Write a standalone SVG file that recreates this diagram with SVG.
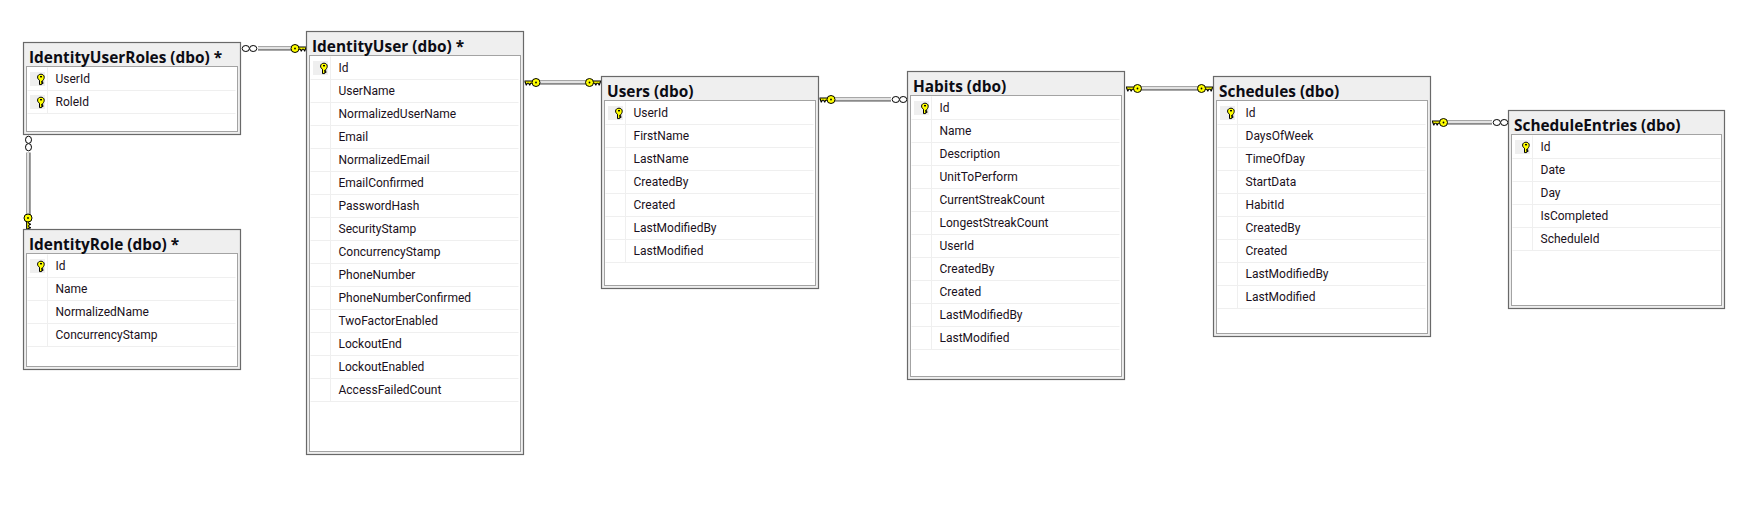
<svg xmlns="http://www.w3.org/2000/svg" width="1741" height="505" viewBox="0 0 1741 505">
<style>
.o{fill:#efefef;stroke:#696969;stroke-width:1.2}
.i{fill:#fff;stroke:#a3a3a3;stroke-width:1}
.g{fill:none;stroke:#efefef;stroke-width:1}
.t{font:700 15.4px "Open Sans","Noto Sans",sans-serif;fill:#0c0c14}
.c{font:12px Roboto,"Open Sans",sans-serif;fill:#1a1020;transform:translateY(-.6px)}
.w1{stroke:#8a8a8a;stroke-width:4.6;fill:none}
.w2{stroke:#e2e2e2;stroke-width:2;fill:none}
.kb{fill:#ffff00;stroke:#000;stroke-width:1}
</style>
<defs>
<g id="pk">
<rect x="0" y="0" width="15" height="14" fill="#efefef"/>
<path class="kb" d="M9.5 8.2V12.6H11.5V11.6H13V10.4H11.5V9.4H12.8V8.2C14 7.4 14.2 6 14.2 5 14.2 3.2 12.6 2.2 11 2.2 9.2 2.2 7.6 3.2 7.6 5 7.6 6.4 8.2 7.6 9.5 8.2Z"/>
<rect x="10" y="4" width="2" height="1.4" fill="#000"/>
</g>
<g id="fk">
<path d="M3 -1.9H11.5V-.4L10.2 3H9.2L8.4 1.2H7.6L6.8 3H5.8L5 1.2H3Z" fill="#000"/>
<path d="M3 -1H10.6V-.5H3Z" fill="#ffff00"/>
<path d="M3 -.6H10.2L9.6 1.2 8.8 .2H7.2L6.4 1.2 5.6 .2H3Z" fill="#ffff00"/>
<circle class="kb" r="4" stroke-width="1.2"/>
<circle r=".9" fill="#000"/>
</g>
<g id="oo" fill="#fff" stroke="#000" stroke-width="1">
<ellipse cx="3.8" rx="3.6" ry="3"/>
<ellipse cx="11.2" rx="3.6" ry="3"/>
</g>
</defs>
<rect width="1741" height="505" fill="#fff"/>
<g id="connectors">
<g id="c-userroles-user">
<path class="w1" d="M258 48.5H292"/><path class="w2" d="M258 48H292"/>
<use href="#oo" transform="translate(242 48.5)"/>
<use href="#fk" transform="translate(295 48.5)"/>
</g>
<g id="c-userroles-role">
<path class="w1" d="M28.5 152.5V215"/><path class="w2" d="M28 152.5V215"/>
<use href="#oo" transform="translate(28.5 136) rotate(90)"/>
<use href="#fk" transform="translate(28 218) rotate(90) scale(1,-1)"/>
</g>
<g id="c-user-users">
<path class="w1" d="M539 82.5H586"/><path class="w2" d="M539 82H586"/>
<use href="#fk" transform="translate(536 82.5) scale(-1,1)"/>
<use href="#fk" transform="translate(589.5 82.5)"/>
</g>
<g id="c-users-habits">
<path class="w1" d="M834 99.5H891"/><path class="w2" d="M834 99H891"/>
<use href="#fk" transform="translate(831 99.5) scale(-1,1)"/>
<use href="#oo" transform="translate(892 99.5)"/>
</g>
<g id="c-habits-schedules">
<path class="w1" d="M1141 88.5H1198"/><path class="w2" d="M1141 88H1198"/>
<use href="#fk" transform="translate(1137.5 88.5) scale(-1,1)"/>
<use href="#fk" transform="translate(1201.5 88.5)"/>
</g>
<g id="c-schedules-entries">
<path class="w1" d="M1447 122.5H1492"/><path class="w2" d="M1447 122H1492"/>
<use href="#fk" transform="translate(1443.5 122.5) scale(-1,1)"/>
<use href="#oo" transform="translate(1493 122.5)"/>
</g>
</g>
<g id="IdentityUserRoles" transform="translate(23.5 42.5)">
<rect class="o" width="217" height="92"/><rect class="i" x="3" y="24" width="211" height="65"/>
<path class="g" d="M4 48H212M4 71H212M24 25V71"/>
<use href="#pk" transform="translate(6.5 29.5)"/><use href="#pk" transform="translate(6.5 52.5)"/>
<text class="t" x="5.5" y="20">IdentityUserRoles (dbo) *</text>
<text class="c" x="32" y="41">UserId</text><text class="c" x="32" y="64">RoleId</text>
</g>
<g id="IdentityRole" transform="translate(23.5 229.5)">
<rect class="o" width="217" height="140"/><rect class="i" x="3" y="24" width="211" height="113"/>
<path class="g" d="M4 48H212M4 71H212M4 94H212M4 117H212M24 25V117"/>
<use href="#pk" transform="translate(6.5 29.5)"/>
<text class="t" x="5.5" y="20">IdentityRole (dbo) *</text>
<text class="c" x="32" y="41">Id</text><text class="c" x="32" y="64">Name</text><text class="c" x="32" y="87">NormalizedName</text><text class="c" x="32" y="110">ConcurrencyStamp</text>
</g>
<g id="IdentityUser" transform="translate(306.5 31.5)">
<rect class="o" width="217" height="423"/><rect class="i" x="3" y="24" width="211" height="396"/>
<path class="g" d="M4 48H212M4 71H212M4 94H212M4 117H212M4 140H212M4 163H212M4 186H212M4 209H212M4 232H212M4 255H212M4 278H212M4 301H212M4 324H212M4 347H212M4 370H212M24 25V370"/>
<use href="#pk" transform="translate(6.5 29.5)"/>
<text class="t" x="5.5" y="20">IdentityUser (dbo) *</text>
<text class="c" x="32" y="41">Id</text><text class="c" x="32" y="64">UserName</text><text class="c" x="32" y="87">NormalizedUserName</text><text class="c" x="32" y="110">Email</text><text class="c" x="32" y="133">NormalizedEmail</text><text class="c" x="32" y="156">EmailConfirmed</text><text class="c" x="32" y="179">PasswordHash</text><text class="c" x="32" y="202">SecurityStamp</text><text class="c" x="32" y="225">ConcurrencyStamp</text><text class="c" x="32" y="248">PhoneNumber</text><text class="c" x="32" y="271">PhoneNumberConfirmed</text><text class="c" x="32" y="294">TwoFactorEnabled</text><text class="c" x="32" y="317">LockoutEnd</text><text class="c" x="32" y="340">LockoutEnabled</text><text class="c" x="32" y="363">AccessFailedCount</text>
</g>
<g id="Users" transform="translate(601.5 76.5)">
<rect class="o" width="217" height="212"/><rect class="i" x="3" y="24" width="211" height="185"/>
<path class="g" d="M4 48H212M4 71H212M4 94H212M4 117H212M4 140H212M4 163H212M4 186H212M24 25V186"/>
<use href="#pk" transform="translate(6.5 29.5)"/>
<text class="t" x="5.5" y="20">Users (dbo)</text>
<text class="c" x="32" y="41">UserId</text><text class="c" x="32" y="64">FirstName</text><text class="c" x="32" y="87">LastName</text><text class="c" x="32" y="110">CreatedBy</text><text class="c" x="32" y="133">Created</text><text class="c" x="32" y="156">LastModifiedBy</text><text class="c" x="32" y="179">LastModified</text>
</g>
<g id="Habits" transform="translate(907.5 71.5)">
<rect class="o" width="217" height="308"/><rect class="i" x="3" y="24" width="211" height="281"/>
<path class="g" d="M4 48H212M4 71H212M4 94H212M4 117H212M4 140H212M4 163H212M4 186H212M4 209H212M4 232H212M4 255H212M4 278H212M24 25V278"/>
<use href="#pk" transform="translate(6.5 29.5)"/>
<text class="t" x="5.5" y="20">Habits (dbo)</text>
<text class="c" x="32" y="41">Id</text><text class="c" x="32" y="64">Name</text><text class="c" x="32" y="87">Description</text><text class="c" x="32" y="110">UnitToPerform</text><text class="c" x="32" y="133">CurrentStreakCount</text><text class="c" x="32" y="156">LongestStreakCount</text><text class="c" x="32" y="179">UserId</text><text class="c" x="32" y="202">CreatedBy</text><text class="c" x="32" y="225">Created</text><text class="c" x="32" y="248">LastModifiedBy</text><text class="c" x="32" y="271">LastModified</text>
</g>
<g id="Schedules" transform="translate(1213.5 76.5)">
<rect class="o" width="217" height="260"/><rect class="i" x="3" y="24" width="211" height="233"/>
<path class="g" d="M4 48H212M4 71H212M4 94H212M4 117H212M4 140H212M4 163H212M4 186H212M4 209H212M4 232H212M24 25V232"/>
<use href="#pk" transform="translate(6.5 29.5)"/>
<text class="t" x="5.5" y="20">Schedules (dbo)</text>
<text class="c" x="32" y="41">Id</text><text class="c" x="32" y="64">DaysOfWeek</text><text class="c" x="32" y="87">TimeOfDay</text><text class="c" x="32" y="110">StartData</text><text class="c" x="32" y="133">HabitId</text><text class="c" x="32" y="156">CreatedBy</text><text class="c" x="32" y="179">Created</text><text class="c" x="32" y="202">LastModifiedBy</text><text class="c" x="32" y="225">LastModified</text>
</g>
<g id="ScheduleEntries" transform="translate(1508.5 110.5)">
<rect class="o" width="216" height="198"/><rect class="i" x="3" y="24" width="210" height="171"/>
<path class="g" d="M4 48H212M4 71H212M4 94H212M4 117H212M4 140H212M24 25V140"/>
<use href="#pk" transform="translate(6.5 29.5)"/>
<text class="t" x="5.5" y="20">ScheduleEntries (dbo)</text>
<text class="c" x="32" y="41">Id</text><text class="c" x="32" y="64">Date</text><text class="c" x="32" y="87">Day</text><text class="c" x="32" y="110">IsCompleted</text><text class="c" x="32" y="133">ScheduleId</text>
</g>
</svg>
